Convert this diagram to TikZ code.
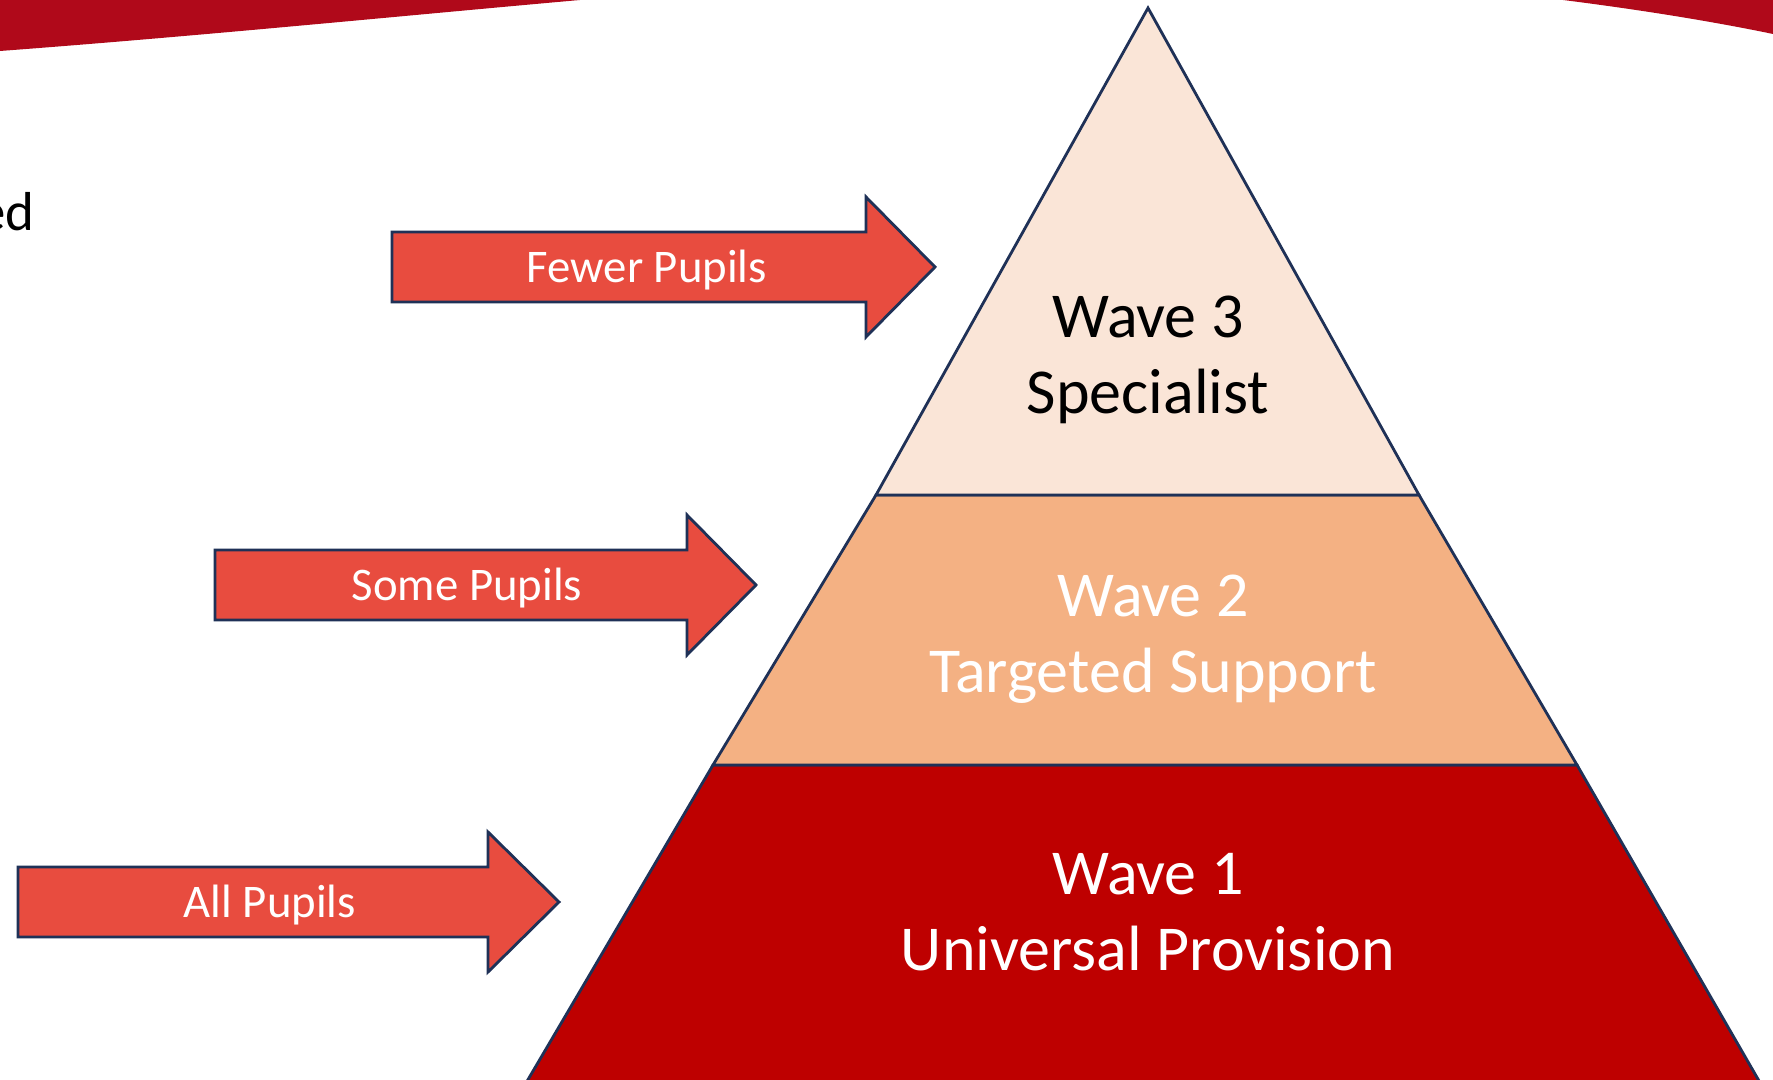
\documentclass[tikz,border=0pt]{standalone}
\usepackage{fontspec}
\setmainfont{Carlito}
\usetikzlibrary{calc}
\definecolor{bannerred}{HTML}{B0091A}
\definecolor{edgenavy}{HTML}{1F3157}
\definecolor{wavethree}{HTML}{FAE5D7}
\definecolor{wavetwo}{HTML}{F4B183}
\definecolor{waveone}{HTML}{BE0000}
\definecolor{arrowred}{HTML}{E84C3F}
\tikzset{
  pyr layer/.style={draw=edgenavy, line width=0.8pt, line join=miter},
  pupil arrow/.style={draw=edgenavy, line width=0.8pt, fill=arrowred, line join=miter},
  wave lbl/.style={align=center, font=\fontsize{18.2}{21.6}\selectfont, inner sep=0},
  arrow lbl/.style={text=white, font=\fontsize{13.3}{16}\selectfont, inner sep=0},
}

\begin{document}
\begin{tikzpicture}[x=0.01cm, y=-0.01cm]
\useasboundingbox (0,0) rectangle (1773,1080);
\clip (0,0) rectangle (1773,1080);
\fill[white] (0,0) rectangle (1773,1080);

% red banner pieces along the top edge
\fill[bannerred] (0,0) -- (0,51) .. controls (200,36) and (400,16) .. (580,0) -- cycle;
\fill[bannerred] (1563,0) .. controls (1650,11) and (1720,23) .. (1773,34) -- (1773,0) -- cycle;

\node[anchor=base east, font=\fontsize{15.6}{19}\selectfont, inner sep=0] (title) at (35,231) {ed};

% pyramid corners
\coordinate (apex) at (1148,8);
\coordinate (b3l) at (876,495);
\coordinate (b3r) at (1419,495);
\coordinate (b2l) at (713,765);
\coordinate (b2r) at (1577,765);
\coordinate (b1l) at (516,1100);
\coordinate (b1r) at (1770,1100);

\draw[pyr layer, fill=waveone] (b2l) -- (b2r) -- (b1r) -- (b1l) -- cycle;
\draw[pyr layer, fill=wavetwo] (b3l) -- (b3r) -- (b2r) -- (b2l) -- cycle;
\draw[pyr layer, fill=wavethree] (apex) -- (b3r) -- (b3l) -- cycle;

\node[wave lbl, text=black] (w3) at (1148,360) {Wave 3\\Specialist};
\node[wave lbl, text=white] (w2) at (1153,639) {Wave 2\\Targeted Support};
\node[wave lbl, text=white] (w1) at (1148,912) {Wave 1\\Universal Provision};

% block arrows pointing at the layers
\foreach \nm/\xl/\xb/\xt/\yc/\lx/\txt in {
  fewer/392/866/935/267/647/Fewer Pupils,
  some/215/687/756/585/467/Some Pupils,
  all/18/488/559/902/270/All Pupils}{
  \draw[pupil arrow] (\xl,\yc-35) -- (\xb,\yc-35) -- (\xb,\yc-70) -- (\xt,\yc)
    -- (\xb,\yc+70) -- (\xb,\yc+35) -- (\xl,\yc+35) -- cycle;
  \node[arrow lbl] (\nm) at (\lx,\yc+3) {\txt};
}

\end{tikzpicture}
\end{document}
